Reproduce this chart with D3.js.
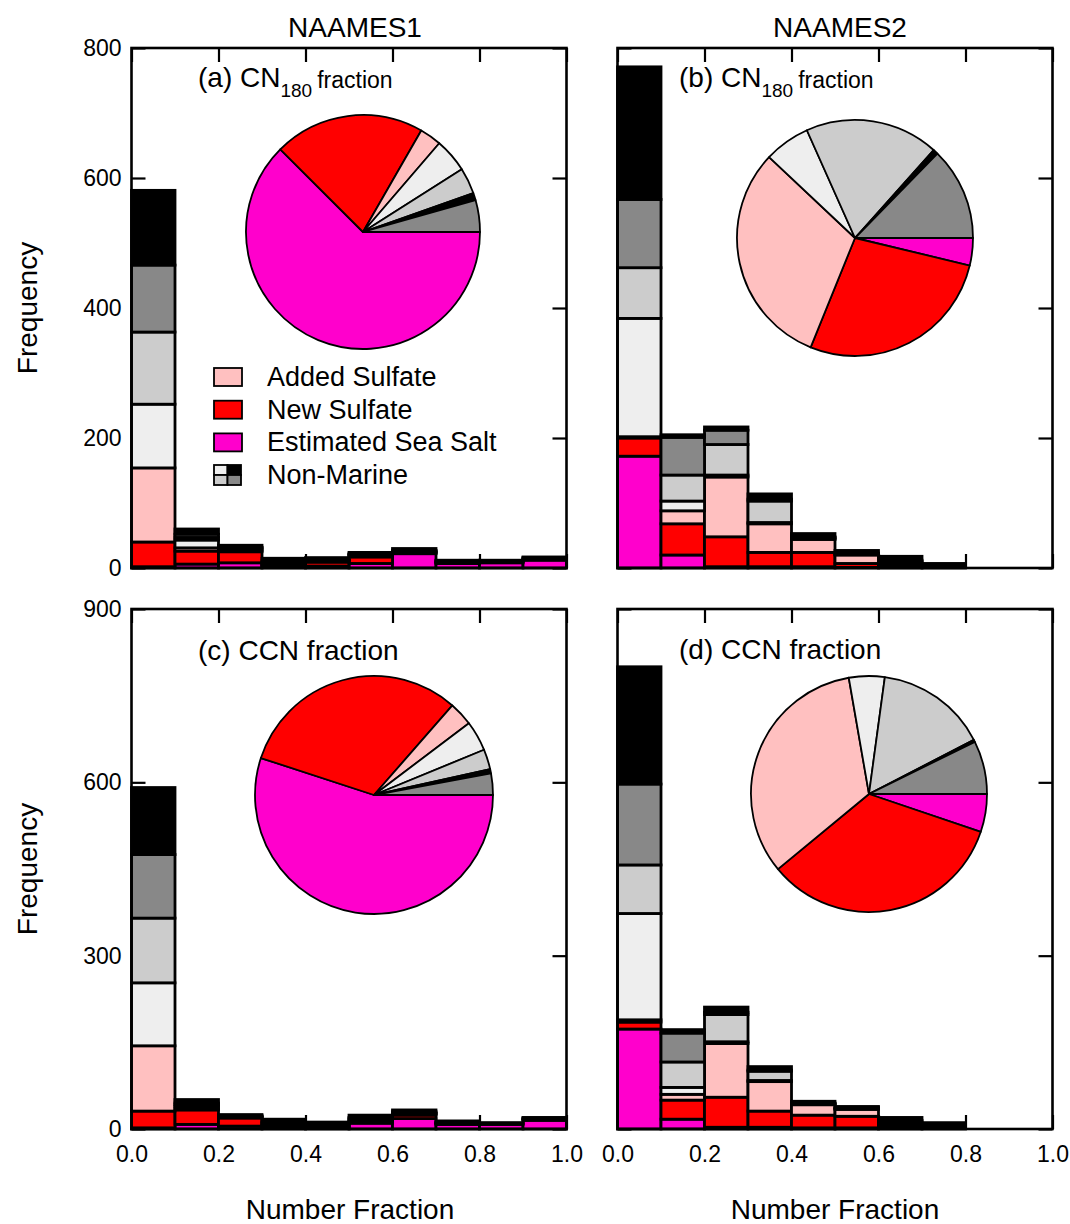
<!DOCTYPE html>
<html><head><meta charset="utf-8">
<script src="https://cdn.jsdelivr.net/npm/d3@7"></script>
<style>
body{margin:0;background:#fff}
text{font-family:"Liberation Sans",Arial,Helvetica,sans-serif;fill:#000}
</style>
</head><body>
<svg id="chart" width="1070" height="1224"></svg>
<script>
// ---------------- DATA ----------------
const binStarts = [0.0,0.1,0.2,0.3,0.4,0.5,0.6,0.7,0.8,0.9];
const categories = ["seaSalt","newSulfate","addedSulfate","nm1","nm2","nm3","nm4"];
const legendLabels = ["Added Sulfate","New Sulfate","Estimated Sea Salt","Non-Marine"];
const xTickValues = [0,0.2,0.4,0.6,0.8,1.0];
const yTicksTop = [0,200,400,600,800];
const yTicksBottom = [0,300,600,900];
const columnTitles = ["NAAMES1","NAAMES2"];

// (a) NAAMES1 CN180
const a_seaSalt      = [2,  6,  8, 2, 3, 7, 22, 7, 8, 12];
const a_newSulfate   = [38, 20, 17, 2, 6, 10, 1, 1, 1, 1];
const a_addedSulfate = [114, 5, 2, 1, 1, 2, 1, 0, 0, 0];
const a_nm1          = [98, 12, 2, 2, 1, 1, 1, 1, 1, 1];
const a_nm2          = [111, 4, 2, 2, 1, 1, 1, 1, 0, 1];
const a_nm3          = [103, 5, 1, 2, 1, 1, 1, 1, 1, 1];
const a_nm4          = [115, 8, 3, 4, 3, 2, 3, 1, 1, 1];

// (b) NAAMES2 CN180
const b_seaSalt      = [172, 20, 2, 2, 2, 1, 1, 0, 0, 0];
const b_newSulfate   = [28, 48, 46, 22, 22, 6, 4, 1, 0, 0];
const b_addedSulfate = [2, 20, 92, 44, 20, 13, 2, 1, 0, 0];
const b_nm1          = [182, 15, 3, 2, 1, 1, 1, 1, 0, 0];
const b_nm2          = [78, 40, 47, 33, 2, 1, 2, 1, 0, 0];
const b_nm3          = [105, 58, 22, 3, 1, 1, 2, 1, 0, 0];
const b_nm4          = [204, 4, 5, 8, 5, 4, 6, 2, 0, 0];

// (c) NAAMES1 CCN
const c_seaSalt      = [2, 8, 5, 2, 1, 10, 18, 8, 8, 15];
const c_newSulfate   = [29, 25, 14, 4, 1, 3, 6, 1, 1, 1];
const c_addedSulfate = [113, 2, 1, 1, 1, 1, 2, 0, 0, 0];
const c_nm1          = [109, 4, 1, 2, 2, 2, 1, 1, 0, 1];
const c_nm2          = [112, 3, 1, 2, 2, 2, 1, 1, 0, 1];
const c_nm3          = [110, 3, 1, 2, 2, 2, 2, 1, 1, 1];
const c_nm4          = [116, 6, 2, 4, 3, 4, 3, 2, 1, 1];

// (d) NAAMES2 CCN
const d_seaSalt      = [173, 17, 3, 3, 2, 2, 1, 1, 0, 0];
const d_newSulfate   = [12, 33, 52, 28, 22, 20, 3, 2, 0, 0];
const d_addedSulfate = [4, 10, 93, 51, 18, 12, 1, 0, 0, 0];
const d_nm1          = [184, 12, 3, 2, 1, 1, 3, 1, 0, 0];
const d_nm2          = [84, 44, 47, 16, 1, 1, 4, 2, 0, 0];
const d_nm3          = [140, 50, 4, 2, 1, 1, 3, 2, 0, 0];
const d_nm4          = [203, 6, 9, 6, 3, 2, 5, 3, 0, 0];

// Pie fractions (%), order clockwise from 3 o'clock
const pieKeys = ["seaSalt","newSulfate","addedSulfate","nm1","nm2","nm4","nm3"];
const pieA = [62.5, 20.8, 3.0, 4.7, 3.6, 1.0, 4.4];
const pieB = [3.75, 27.4, 30.9, 6.3, 18.3, 0.7, 12.7];
const pieC = [55.0, 31.4, 3.25, 4.1, 2.7, 0.6, 2.9];
const pieD = [5.2, 33.9, 33.3, 4.9, 15.3, 0.3, 7.3];

// ---------------- STYLE ----------------
const colors = {seaSalt:"#ff00cc", newSulfate:"#ff0000", addedSulfate:"#ffc0c0",
  nm1:"#eeeeee", nm2:"#cccccc", nm3:"#888888", nm4:"#000000"};

const svg = d3.select("#chart");

function seriesObj(p){
  return {seaSalt:p[0],newSulfate:p[1],addedSulfate:p[2],nm1:p[3],nm2:p[4],nm3:p[5],nm4:p[6]};
}

const panels = [
  {id:"a", x0:131.5, x1:566.5, y0:48, y1:568, yMax:800, yTicks:yTicksTop, yLabels:true, xLabels:false,
   series:seriesObj([a_seaSalt,a_newSulfate,a_addedSulfate,a_nm1,a_nm2,a_nm3,a_nm4]),
   pie:pieA, pc:[363,232], pr:117, label:"(a) CN", sub:"180", tail:"fraction", lx:198, ly:87},
  {id:"b", x0:617.5, x1:1052.5, y0:48, y1:568, yMax:800, yTicks:yTicksTop, yLabels:false, xLabels:false,
   series:seriesObj([b_seaSalt,b_newSulfate,b_addedSulfate,b_nm1,b_nm2,b_nm3,b_nm4]),
   pie:pieB, pc:[855,238], pr:118, label:"(b) CN", sub:"180", tail:"fraction", lx:679, ly:87},
  {id:"c", x0:131.5, x1:566.5, y0:609, y1:1129, yMax:900, yTicks:yTicksBottom, yLabels:true, xLabels:true,
   series:seriesObj([c_seaSalt,c_newSulfate,c_addedSulfate,c_nm1,c_nm2,c_nm3,c_nm4]),
   pie:pieC, pc:[374,795], pr:119, label:"(c) CCN fraction", lx:198, ly:660},
  {id:"d", x0:617.5, x1:1052.5, y0:609, y1:1129, yMax:900, yTicks:yTicksBottom, yLabels:false, xLabels:true,
   series:seriesObj([d_seaSalt,d_newSulfate,d_addedSulfate,d_nm1,d_nm2,d_nm3,d_nm4]),
   pie:pieD, pc:[869,794], pr:118, label:"(d) CCN fraction", lx:679, ly:659}
];

const TICK = 14;

panels.forEach(p => {
  const x = d3.scaleLinear().domain([0,1]).range([p.x0,p.x1]);
  const y = d3.scaleLinear().domain([0,p.yMax]).range([p.y1,p.y0]);
  const g = svg.append("g");

  const styleAxis = sel => {
    sel.select(".domain").remove();
    sel.selectAll(".tick line").attr("stroke","#000").attr("stroke-width",2.2);
    sel.selectAll("text").style("font-size","23px").attr("fill","#000")
      .style("font-family",'"Liberation Sans",Arial,sans-serif');
  };
  g.append("g").attr("transform",`translate(${p.x0},0)`)
    .call(d3.axisLeft(y).tickValues(p.yTicks).tickSize(-TICK).tickPadding(10)
      .tickFormat(p.yLabels ? d3.format("d") : ""))
    .call(styleAxis);
  g.append("g").attr("transform",`translate(${p.x1},0)`)
    .call(d3.axisRight(y).tickValues(p.yTicks).tickSize(-TICK).tickFormat(""))
    .call(styleAxis);
  g.append("g").attr("transform",`translate(0,${p.y0})`)
    .call(d3.axisTop(x).tickValues(xTickValues).tickSize(-TICK).tickFormat(""))
    .call(styleAxis);
  g.append("g").attr("transform",`translate(0,${p.y1})`)
    .call(d3.axisBottom(x).tickValues(xTickValues).tickSize(-TICK).tickPadding(17)
      .tickFormat(p.xLabels ? d3.format(".1f") : ""))
    .call(styleAxis);

  // stacked bars
  const rows = binStarts.map((b,i) => {
    const r = {bin:b};
    categories.forEach(k => r[k] = p.series[k][i]);
    return r;
  });
  const stacked = d3.stack().keys(categories)(rows);
  const barW = x(0.1) - x(0);
  stacked.forEach(layer => {
    g.append("g").selectAll("rect").data(layer.filter(d => d[1]-d[0] > 0)).join("rect")
      .attr("x", d => x(d.data.bin))
      .attr("width", barW)
      .attr("y", d => y(d[1]))
      .attr("height", d => y(d[0]) - y(d[1]))
      .attr("fill", colors[layer.key])
      .attr("stroke","#000").attr("stroke-width",2.8);
  });

  // frame
  g.append("rect").attr("x",p.x0).attr("y",p.y0)
    .attr("width",p.x1-p.x0).attr("height",p.y1-p.y0)
    .attr("fill","none").attr("stroke","#000").attr("stroke-width",2.6);

  // pie
  const pieGen = d3.pie().sort(null).value(d => d.v)
    .startAngle(Math.PI/2).endAngle(Math.PI/2 + 2*Math.PI);
  const arc = d3.arc().innerRadius(0).outerRadius(p.pr);
  const pieData = pieGen(pieKeys.map((k,i) => ({k, v:p.pie[i]})));
  g.append("g").attr("transform",`translate(${p.pc[0]},${p.pc[1]})`)
    .selectAll("path").data(pieData).join("path")
    .attr("d", arc)
    .attr("fill", d => colors[d.data.k])
    .attr("stroke","#000").attr("stroke-width",1.8).attr("stroke-linejoin","round");

  // panel label
  const t = g.append("text").attr("x",p.lx).attr("y",p.ly).style("font-size","28px");
  if (p.sub) {
    t.append("tspan").text(p.label);
    t.append("tspan").attr("dy",10).style("font-size","19px").text(p.sub);
    t.append("tspan").attr("dy",-9).attr("dx",5).style("font-size","23px").text(p.tail);
  } else {
    t.text(p.label);
  }
});

// column titles
svg.append("text").attr("x",355).attr("y",37).attr("text-anchor","middle")
  .style("font-size","28px").text(columnTitles[0]);
svg.append("text").attr("x",840).attr("y",37).attr("text-anchor","middle")
  .style("font-size","28px").text(columnTitles[1]);

// axis titles
[308, 869].forEach(cy => {
  svg.append("text").attr("transform",`translate(37,${cy}) rotate(-90)`)
    .attr("text-anchor","middle").style("font-size","28px").text("Frequency");
});
[350, 835].forEach(cx => {
  svg.append("text").attr("x",cx).attr("y",1219).attr("text-anchor","middle")
    .style("font-size","28px").text("Number Fraction");
});

// legend (in panel a)
const lg = svg.append("g");
const legendKeys = ["addedSulfate","newSulfate","seaSalt"];
const legY = [368, 400.7, 433.4];
legendKeys.forEach((k,i) => {
  lg.append("rect").attr("x",214).attr("y",legY[i]).attr("width",28).attr("height",18)
    .attr("fill",colors[k]).attr("stroke","#000").attr("stroke-width",1.8);
  lg.append("text").attr("x",267).attr("y",legY[i]+18).style("font-size","27px").text(legendLabels[i]);
});
const nmCells = [["nm1",0,0],["nm4",1,0],["nm2",0,1],["nm3",1,1]];
nmCells.forEach(([k,cx,cy]) => {
  lg.append("rect").attr("x",214+cx*13.5).attr("y",465+cy*10).attr("width",13.5).attr("height",10)
    .attr("fill",colors[k]).attr("stroke","#000").attr("stroke-width",1.8);
});
lg.append("text").attr("x",267).attr("y",484).style("font-size","27px").text(legendLabels[3]);
</script>
</body></html>
